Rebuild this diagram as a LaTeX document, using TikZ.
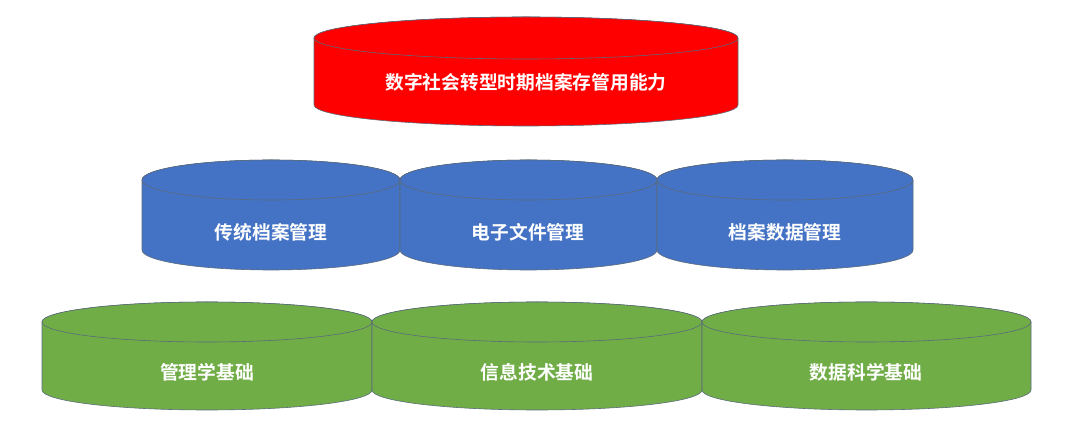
\documentclass[tikz,border=0pt]{standalone}
\usepackage{fontspec}
\setmainfont{Noto Sans CJK SC}
\newfontfamily\cjkbold{Noto Sans CJK SC Bold}
\definecolor{layerred}{HTML}{FF0000}
\definecolor{layerblue}{HTML}{4472C4}
\definecolor{layergreen}{HTML}{70AD47}
\definecolor{rimgray}{HTML}{5A6A7A}
% #1 left x, #2 right x, #3 top centre y, #4 bottom centre y, #5 half height, #6 colour
\newcommand\cylinder[6]{%
  \path[cylbody, fill=#6] (#1,#3) -- (#1,#4)
    arc[start angle=180, end angle=360, x radius={(#2-#1)/2}, y radius=#5]
    -- (#2,#3)
    arc[start angle=0, end angle=180, x radius={(#2-#1)/2}, y radius=#5] -- cycle;
  \path[cylbody, fill=#6] ({(#1+#2)/2},#3) ellipse[x radius={(#2-#1)/2}, y radius=#5];}
\begin{document}
\begin{tikzpicture}[
    x=0.3mm, y=0.3mm,
    cylbody/.style={draw=rimgray, line width=0.5pt},
    layertext/.style={text=white, font=\cjkbold\fontsize{16}{18}\selectfont},
]
\useasboundingbox[fill=white] (0,0) rectangle (1080,438);

% Top layer
\cylinder{314}{738}{400}{333}{21}{layerred}
\node[layertext] (ability) at (526,356) {数字社会转型时期档案存管用能力};

% Middle layer
\cylinder{142}{400}{258}{188}{20}{layerblue}
\cylinder{400}{657}{258}{188}{20}{layerblue}
\cylinder{657}{913}{258}{188}{20}{layerblue}
\node[layertext] (trad) at (271,206) {传统档案管理};
\node[layertext] (efile) at (528,206) {电子文件管理};
\node[layertext] (adata) at (785,206) {档案数据管理};

% Bottom layer
\cylinder{42}{372}{116}{48}{20}{layergreen}
\cylinder{372}{702}{116}{48}{20}{layergreen}
\cylinder{702}{1031}{116}{48}{20}{layergreen}
\node[layertext] (mgmt) at (207,66) {管理学基础};
\node[layertext] (info) at (537,66) {信息技术基础};
\node[layertext] (dsci) at (866,66) {数据科学基础};

\end{tikzpicture}
\end{document}
